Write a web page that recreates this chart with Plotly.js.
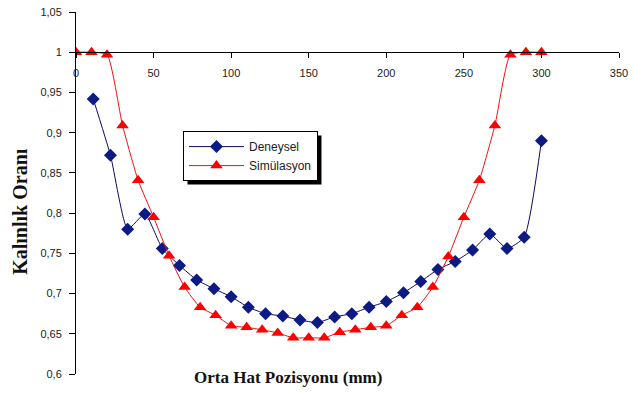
<!DOCTYPE html>
<html>
<head>
<meta charset="utf-8">
<script src="https://cdn.plot.ly/plotly-3.0.1.min.js"></script>
<style>html,body{margin:0;padding:0;background:#fff;}#chart{width:633px;height:394px;}</style>
</head>
<body>
<div id="chart"></div>
<script>
// Data
const deneyselX = [11.1, 22.2, 33.3, 44.4, 55.6, 66.7, 77.8, 88.9, 100, 111.1, 122.2, 133.3, 144.4, 155.6, 166.7, 177.8, 188.9, 200, 211.1, 222.2, 233.3, 244.4, 255.6, 266.7, 277.8, 288.9, 300];
const deneyselY = [0.942, 0.872, 0.780, 0.799, 0.756, 0.735, 0.717, 0.706, 0.696, 0.683, 0.675, 0.672, 0.667, 0.664, 0.671, 0.675, 0.683, 0.690, 0.701, 0.715, 0.730, 0.740, 0.754, 0.774, 0.756, 0.770, 0.890];
const simX = [0, 10, 20, 30, 40, 50, 60, 70, 80, 90, 100, 110, 120, 130, 140, 150, 160, 170, 180, 190, 200, 210, 220, 230, 240, 250, 260, 270, 280, 290, 300];
const simY = [1.0, 1.0, 0.997, 0.909, 0.841, 0.795, 0.747, 0.708, 0.683, 0.673, 0.660, 0.658, 0.655, 0.651, 0.645, 0.645, 0.645, 0.652, 0.655, 0.658, 0.660, 0.673, 0.683, 0.708, 0.746, 0.795, 0.841, 0.909, 0.997, 1.0, 1.0];
const yTickVals = [0.6, 0.65, 0.7, 0.75, 0.8, 0.85, 0.9, 0.95, 1.0, 1.05];
const yTickText = ["0,6", "0,65", "0,7", "0,75", "0,8", "0,85", "0,9", "0,95", "1", "1,05"];
const xTickVals = [0, 50, 100, 150, 200, 250, 300, 350];
const seriesNames = ["Deneysel", "Simülasyon"];
const xTitle = "Orta Hat Pozisyonu (mm)";
const yTitle = "Kalınlık Oranı";

const traces = [
  {
    x: deneyselX, y: deneyselY, name: seriesNames[0], type: 'scatter', mode: 'lines+markers',
    line: {color: '#0a0a60', width: 1, shape: 'spline', smoothing: 0.5},
    marker: {symbol: 'diamond', size: 10, color: '#0b1a85'}
  },
  {
    x: simX, y: simY, name: seriesNames[1], type: 'scatter', mode: 'lines+markers',
    line: {color: '#ee1010', width: 1, shape: 'spline', smoothing: 0.5},
    marker: {symbol: 'triangle-up', size: 11, color: '#ff0000'}
  }
];

const layout = {
  width: 633, height: 394,
  margin: {l: 76, r: 14, t: 12, b: 20},
  paper_bgcolor: '#fff', plot_bgcolor: '#fff',
  font: {family: 'Liberation Sans, Arial, sans-serif', size: 11, color: '#222'},
  xaxis: {
    range: [0, 350], tickvals: xTickVals, showgrid: false, zeroline: false,
    showline: true, linecolor: '#000', linewidth: 1,
    ticks: 'outside', ticklen: 5, tickcolor: '#000',
    anchor: 'free', position: 0.4 / 0.45, side: 'bottom',
    ticklabelstandoff: 6,
    tickfont: {family: 'Liberation Sans, Arial, sans-serif', size: 11, color: '#222'}
  },
  yaxis: {
    range: [0.6, 1.05], tickvals: yTickVals, ticktext: yTickText, showgrid: false, zeroline: false,
    showline: true, linecolor: '#000', linewidth: 1,
    ticks: 'outside', ticklen: 6, tickcolor: '#000',
    ticklabelstandoff: 5,
    tickfont: {family: 'Liberation Sans, Arial, sans-serif', size: 11, color: '#222'}
  },
  showlegend: true,
  legend: {
    x: 0.197, y: 0.671, xanchor: 'left', yanchor: 'top',
    bgcolor: '#fff', bordercolor: '#000', borderwidth: 1,
    font: {family: 'Liberation Sans, Arial, sans-serif', size: 12, color: '#222'},
    tracegroupgap: 0, itemwidth: 55
  },
  shapes: [
    {type: 'rect', xref: 'paper', yref: 'paper', layer: 'above',
     x0: 0.2053, x1: 0.4521, y0: 0.5235, y1: 0.6588,
     fillcolor: '#000', line: {width: 0}}
  ],
  annotations: [
    {text: xTitle, xref: 'paper', yref: 'paper', x: 0.39, y: -0.01, xanchor: 'center', yanchor: 'middle',
     showarrow: false, font: {family: 'Liberation Serif, Times New Roman, serif', size: 17, color: '#111', weight: 'bold'}},
    {text: yTitle, xref: 'paper', yref: 'paper', x: -0.1, y: 0.45, xanchor: 'center', yanchor: 'middle',
     textangle: -90, showarrow: false, xshift: -2,
     font: {family: 'Liberation Serif, Times New Roman, serif', size: 20, color: '#111', weight: 'bold'}}
  ]
};

Plotly.newPlot('chart', traces, layout, {displayModeBar: false, staticPlot: true});
</script>
</body>
</html>
